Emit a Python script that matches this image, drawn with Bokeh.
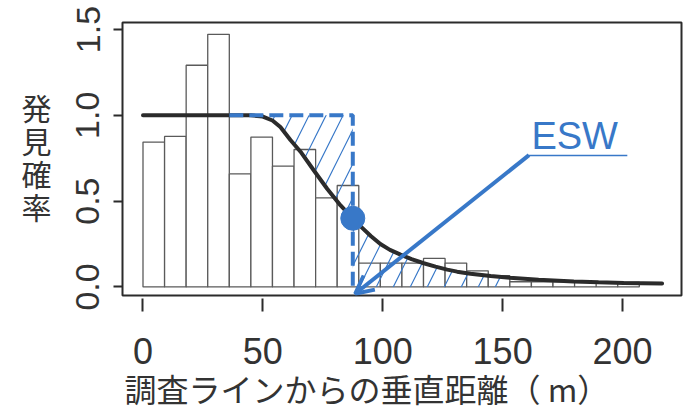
from bokeh.plotting import figure
from bokeh.models import Range1d, FixedTicker, Label, Arrow, OpenHead, Title
from bokeh.embed import file_html
from bokeh.resources import INLINE

# ---- data ----
bin_left = [0, 9, 18, 27, 36, 45, 54, 63, 72, 81, 90, 99, 108, 117, 126, 135, 144, 153, 162, 171, 180, 189, 198]
bin_right = [9, 18, 27, 36, 45, 54, 63, 72, 81, 90, 99, 108, 117, 126, 135, 144, 153, 162, 171, 180, 189, 198, 207]
density = [0.844, 0.877, 1.292, 1.472, 0.659, 0.873, 0.704, 0.801, 0.519, 0.591,
           0.139, 0.139, 0.139, 0.166, 0.139, 0.094, 0.065, 0.030, 0.030, 0.030,
           0.0, 0.028, 0.028]

curve_x = [0, 45, 50, 54, 57.3, 61.5, 65.7, 71.2, 76.8, 82.4, 87.5, 91, 95, 99, 103,
           107.4, 112, 117.1, 122, 126.9, 131, 136.6, 145, 153, 165, 179.7, 190, 200.5, 216.5]
curve_y = [1.0, 1.0, 0.993, 0.97, 0.932, 0.856, 0.788, 0.68, 0.572, 0.475, 0.40, 0.35, 0.297,
           0.25, 0.216, 0.188, 0.162, 0.138, 0.118, 0.101, 0.089, 0.077, 0.063, 0.053, 0.042,
           0.032, 0.027, 0.023, 0.020]

esw = 87.5
esw_g = 0.40
dash_start = 36
hatch_start = 45
hatch_end = 153

x_ticks = [0, 50, 100, 150, 200]
x_tick_labels = ["0", "50", "100", "150", "200"]
y_ticks = [0, 0.5, 1.0, 1.5]
y_tick_labels = ["0.0", "0.5", "1.0", "1.5"]
x_title = "調査ラインからの垂直距離（ m）"
y_title = "発見確率"
esw_text = "ESW"

BLUE = "#3878c8"
DARK = "#2b2b2b"
TXT = "#333333"
JP = "Noto Sans CJK JP"
LAT = "Liberation Sans"

p = figure(width=692, height=411, output_backend="svg", toolbar_location=None,
           x_range=Range1d(-8.55, 224.6), y_range=Range1d(-0.05, 1.541),
           min_border_left=122, min_border_right=11, min_border_top=22, min_border_bottom=116)
p.grid.visible = False
p.outline_line_color = DARK
p.outline_line_width = 2
p.background_fill_color = "white"
p.border_fill_color = "white"

# axes
p.xaxis.ticker = FixedTicker(ticks=x_ticks)
p.xaxis.major_label_overrides = dict(zip(x_ticks, x_tick_labels))
p.yaxis.ticker = FixedTicker(ticks=y_ticks)
p.yaxis.major_label_overrides = dict(zip(y_ticks, y_tick_labels))
for ax in (p.xaxis, p.yaxis):
    ax.axis_line_color = None
    ax.minor_tick_line_color = None
    ax.major_tick_line_color = DARK
    ax.major_tick_line_width = 2
    ax.major_label_text_color = TXT
    ax.major_label_text_font = LAT
p.xaxis.major_tick_in = -3
p.xaxis.major_tick_out = 16
p.xaxis.major_label_standoff = 26
p.xaxis.major_label_text_font_size = "36px"
p.yaxis.major_tick_in = 0
p.yaxis.major_tick_out = 9
p.yaxis.major_label_standoff = 14
p.yaxis.major_label_text_font_size = "34px"
p.yaxis.major_label_orientation = "vertical"

p.yaxis.axis_label = "\n".join(y_title)
p.yaxis.axis_label_orientation = "horizontal"
p.yaxis.axis_label_text_font = "Liberation Sans, Noto Sans CJK JP"
p.yaxis.axis_label_text_font_size = "30px"
p.yaxis.axis_label_text_font_style = "normal"
p.yaxis.axis_label_text_color = TXT
p.yaxis.axis_label_text_line_height = 1.0
p.yaxis.axis_label_standoff = 22

# x axis title, left-aligned under the axis as in the reference
p.add_layout(Title(text=x_title, align="left", offset=2, standoff=-7,
                   text_font=JP, text_font_size="32px", text_font_style="normal",
                   text_color=TXT), "below")

# histogram
p.quad(left=bin_left, right=bin_right, bottom=0, top=density,
       fill_color="white", line_color="#5a5a5a", line_width=1.3)

# hatched areas
lx = [hatch_start, esw, esw] + [x for x in reversed(curve_x) if hatch_start <= x < esw]
ly = [1.0, 1.0, esw_g] + [y for x, y in reversed(list(zip(curve_x, curve_y))) if hatch_start <= x < esw]
rx = [esw, esw] + [x for x in curve_x if esw < x <= hatch_end] + [hatch_end]
ry = [0.0, esw_g] + [y for x, y in zip(curve_x, curve_y) if esw < x <= hatch_end] + [0.0]
for xs, ys in ((lx, ly), (rx, ry)):
    p.patch(xs, ys, fill_color=None, line_color=None,
            hatch_pattern="/", hatch_color=BLUE, hatch_scale=34, hatch_weight=1.2)

# detection curve
p.line(curve_x, curve_y, line_color=DARK, line_width=4, line_cap="round")

# ESW dashed rectangle edges
p.line([dash_start, esw, esw], [1.0, 1.0, 0.0], line_color=BLUE, line_width=4,
       line_dash="14 6")

# point at ESW
p.scatter([esw], [esw_g], size=24, color=BLUE)

# ESW annotation
p.add_layout(Arrow(end=OpenHead(size=18, line_color=BLUE, line_width=4),
                   x_start=161, y_start=0.768, x_end=esw + 1, y_end=-0.04,
                   line_color=BLUE, line_width=4))
p.line([161, 202], [0.766, 0.766], line_color=BLUE, line_width=1.5)
p.add_layout(Label(x=162, y=0.882, text=esw_text, text_color=BLUE, text_font=LAT,
                   text_font_size="38px", text_align="left", text_baseline="middle"))

open("out.html", "w").write(file_html(p, INLINE))
